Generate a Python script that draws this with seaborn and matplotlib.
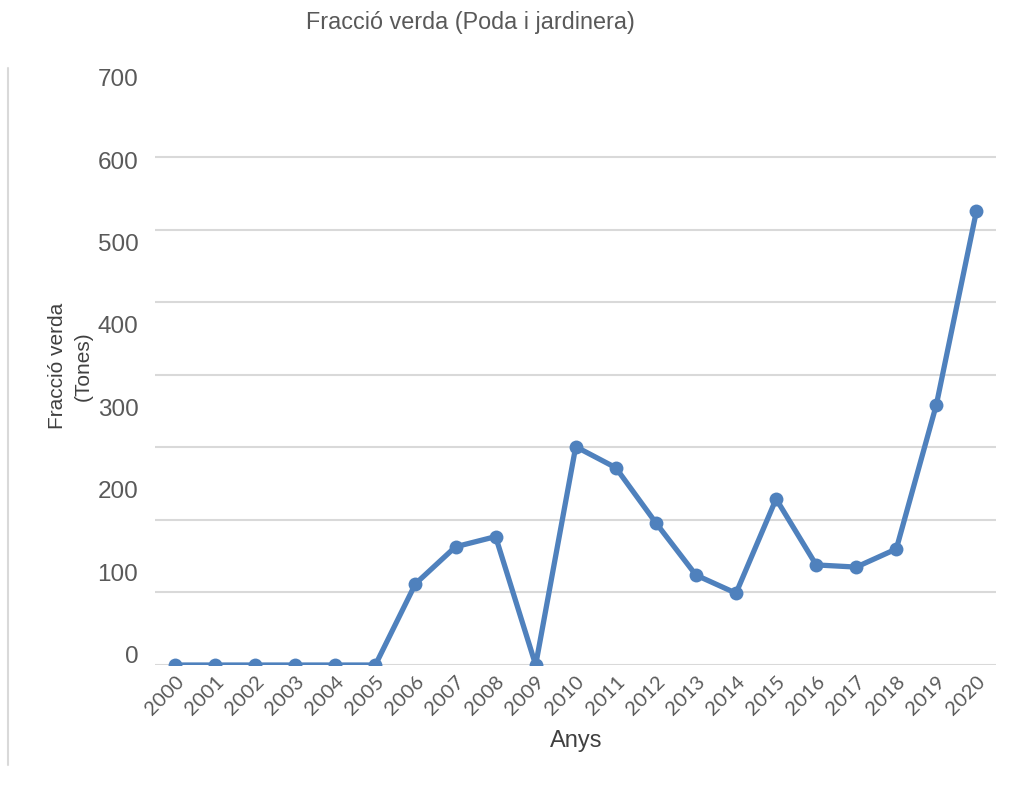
import matplotlib.pyplot as plt
import seaborn as sns
import numpy as np
import pandas as pd
from matplotlib.lines import Line2D
from matplotlib.ticker import FixedLocator, NullFormatter

# Data
years = [str(y) for y in range(2000, 2021)]
tones = [0, 0, 0, 0, 0, 0, 112, 163, 177, 0, 301, 272, 196, 124, 99, 229, 138, 135, 160, 359, 626]
grid_values = [0, 100, 200, 300, 400, 500, 600, 700]
label_values = [0, 100, 200, 300, 400, 500, 600, 700]

df = pd.DataFrame({'Anys': years, 'Tones': tones})

sns.set_style("white")
plt.rcParams['font.family'] = ['Liberation Sans', 'DejaVu Sans']

fig = plt.figure(figsize=(10.09, 7.87), dpi=100)
ax = fig.add_axes([0.1536, 0.155, 0.834, 0.765])

sns.lineplot(x='Anys', y='Tones', data=df, ax=ax, color='#4F81BD', linewidth=3.8,
             marker='o', markersize=10, markeredgewidth=0, sort=False)

ax.set_xlim(-0.5, len(years) - 0.5)
ax.set_ylim(0, 830)

# gridlines on the real scale, labels drawn on the (shifted) scale used by the source chart
ax.yaxis.set_minor_locator(FixedLocator(grid_values))
ax.yaxis.set_minor_formatter(NullFormatter())
ax.set_yticks([14 + 1.137 * v for v in label_values])
ax.set_yticklabels([str(v) for v in label_values])
ax.grid(False)
ax.grid(True, which='minor', axis='y', color='#D9D9D9', linewidth=1.5)
ax.set_axisbelow(True)

ax.tick_params(axis='y', which='both', length=0, pad=12, labelsize=17.5, labelcolor='#595959')
ax.tick_params(axis='x', length=0, pad=6, labelcolor='#595959')
for lab in ax.get_xticklabels():
    lab.set_rotation(45)
    lab.set_ha('right')
    lab.set_rotation_mode('anchor')
    lab.set_family(['Lato', 'DejaVu Sans'])
    lab.set_fontsize(14.5)

for s in ax.spines.values():
    s.set_visible(False)

ax.set_xlabel('Anys', fontsize=17, color='#404040', labelpad=8)
ax.set_ylabel('')
fig.text(0.07, 0.535, 'Fracció verda\n(Tones)', rotation=90, ha='center', va='center',
         fontsize=15, color='#404040', linespacing=1.45)
fig.text(0.466, 0.972, 'Fracció verda (Poda i jardinera)', ha='center', va='center',
         fontsize=16.8, color='#595959')

fig.add_artist(Line2D([0.008, 0.008], [1 - 68 / 787, 1 - 765 / 787], color='#D9D9D9',
                      linewidth=1.5, transform=fig.transFigure))

plt.savefig('out.png', dpi=100)
